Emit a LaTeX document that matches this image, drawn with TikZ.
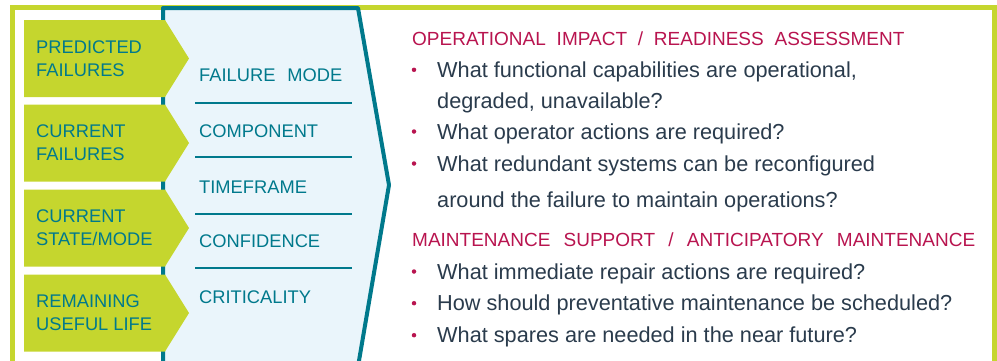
\documentclass[tikz,border=0pt]{standalone}
\usepackage{fontspec}
\setmainfont{Liberation Sans}
\usetikzlibrary{positioning}
\definecolor{pmlime}{HTML}{C5D62E}
\definecolor{pmteal}{HTML}{00798C}
\definecolor{pmfill}{HTML}{EAF5FB}
\definecolor{pmred}{HTML}{B8144F}
\definecolor{pmtext}{HTML}{2A3B4C}
\tikzset{
  lbl/.style={text=pmteal, inner sep=0pt, anchor=base west, font=\fontsize{18.3}{22}\selectfont},
  head/.style={text=pmred, inner sep=0pt, anchor=base west, font=\fontsize{19}{23}\selectfont},
  item/.style={text=pmtext, inner sep=0pt, anchor=base west, font=\fontsize{21.7}{26}\selectfont},
  bul/.style={circle, fill=pmred, inner sep=0pt, minimum size=4.5pt}
}
\newcommand{\wsp}[1]{\hspace{#1pt}}

\begin{document}
\begin{tikzpicture}[x=1pt,y=-1pt]
  \useasboundingbox (0,0) rectangle (997,360);
  \clip (0,0) rectangle (997,360);
  % outer frame
  \draw[pmlime, line width=5] (12,7.5) rectangle (994,390);
  % chevron panel
  \draw[pmteal, line width=4, fill=pmfill, line join=round] (163,390) -- (163,8) -- (358,8) -- (389,185) -- (354,390) -- cycle;
  % input arrows
  \foreach \yc/\la/\lb [count=\i] in {58.5/PREDICTED/FAILURES, 143/CURRENT/FAILURES, 228/CURRENT/{STATE/MODE}, 313/REMAINING/{USEFUL LIFE}} {
    \fill[pmlime] (24,\yc-38.5) -- (165,\yc-38.5) -- (189,\yc) -- (165,\yc+38.5) -- (24,\yc+38.5) -- cycle;
    \node[lbl] (a\i) at (36,\yc-5.5) {\la};
    \node[lbl] (b\i) at (36,\yc+17.5) {\lb};
  }
  % attributes
  \foreach \yb/\t [count=\i] in {81/FAILURE\wsp{12}MODE, 137/COMPONENT, 193/TIMEFRAME, 247/CONFIDENCE, 303/CRITICALITY}
    \node[lbl] (k\i) at (199,\yb) {\t};
  \foreach \y in {103,157,214,268}
    \draw[pmteal, line width=1.3] (195,\y) -- (352,\y);
  % questions
  \node[head] (h1) at (412,45.7) {OPERATIONAL\wsp{10.8}IMPACT\wsp{10.8}/\wsp{10.8}READINESS\wsp{10.8}ASSESSMENT};
  \node[item] (q1) at (437,77.3) {What functional capabilities are operational,};
  \node[item] (q2) at (437,108.3) {degraded, unavailable?};
  \node[item] (q3) at (437,139) {What operator actions are required?};
  \node[item] (q4) at (437,171) {What redundant systems can be reconfigured};
  \node[item] (q5) at (437,207.7) {around the failure to maintain operations?};
  \node[head] (h2) at (412,246.7) {MAINTENANCE\wsp{13.2}SUPPORT\wsp{13.2}/\wsp{13.2}ANTICIPATORY\wsp{13.2}MAINTENANCE};
  \node[item] (q6) at (437,279) {What immediate repair actions are required?};
  \node[item] (q7) at (437,310.7) {How should preventative maintenance be scheduled?};
  \node[item] (q8) at (437,342.7) {What spares are needed in the near future?};
  \foreach \q in {q1,q3,q4,q6,q7,q8}
    \node[bul] (d\q) at ([xshift=-23pt,yshift=7.5pt]\q.base west) {};
\end{tikzpicture}
\end{document}
